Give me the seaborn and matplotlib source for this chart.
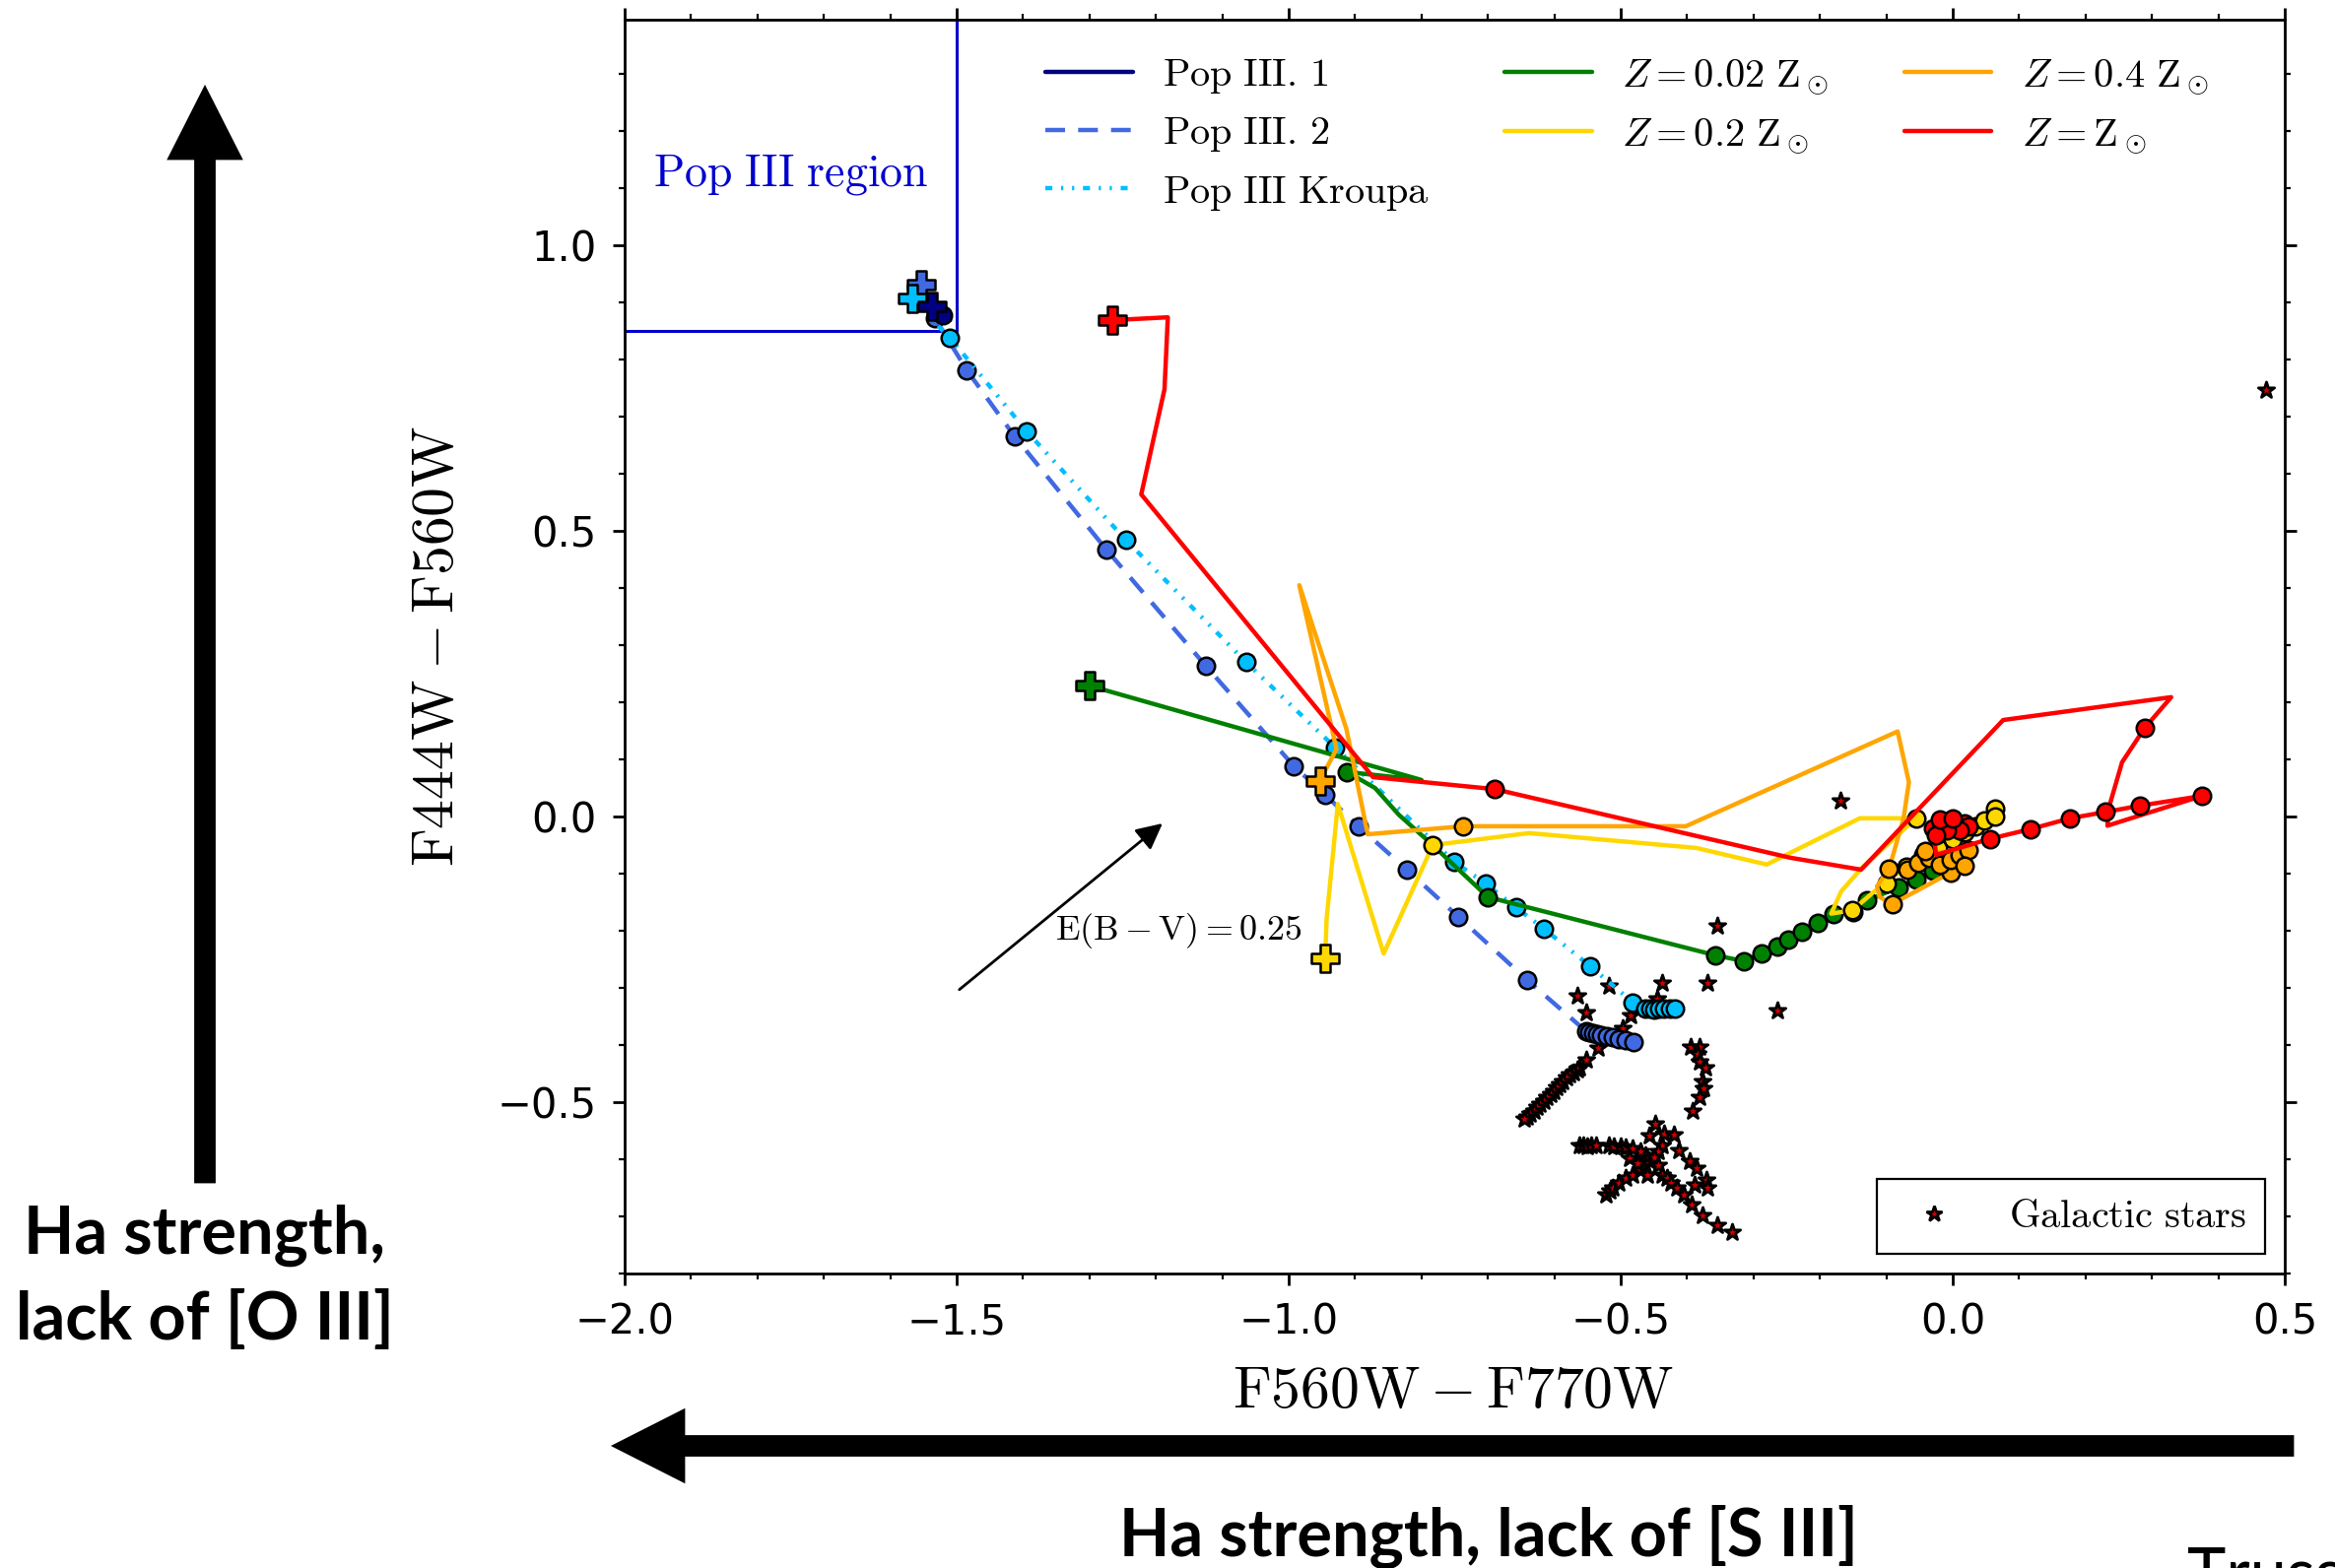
import matplotlib
matplotlib.use("Agg")
import matplotlib.pyplot as plt
import seaborn as sns
from matplotlib.lines import Line2D
from matplotlib.patches import FancyArrow
from matplotlib.ticker import MultipleLocator

# ---------------- model tracks (F560W-F770W, F444W-F560W) ----------------
pop31_x = [-1.537, -1.530, -1.521, -1.510]
pop31_y = [0.893, 0.885, 0.877, 0.869]
pop31_mx = [-1.530, -1.521]
pop31_my = [0.885, 0.877]

pop32_x = [-1.553, -1.533, -1.485, -1.413, -1.275, -1.125, -0.992, -0.945, -0.895,
           -0.822, -0.745, -0.641, -0.552, -0.547, -0.542, -0.536, -0.529, -0.521,
           -0.512, -0.503, -0.493, -0.481]
pop32_y = [0.931, 0.873, 0.782, 0.666, 0.468, 0.264, 0.088, 0.038, -0.017,
           -0.093, -0.175, -0.286, -0.376, -0.378, -0.379, -0.381, -0.383, -0.385,
           -0.387, -0.390, -0.392, -0.395]

kroupa_x = [-1.567, -1.510, -1.395, -1.245, -1.064, -0.930, -0.751, -0.703, -0.658,
            -0.616, -0.546, -0.482, -0.463, -0.456, -0.449, -0.442, -0.434, -0.426,
            -0.418]
kroupa_y = [0.907, 0.838, 0.675, 0.484, 0.270, 0.121, -0.079, -0.118, -0.159,
            -0.196, -0.262, -0.325, -0.336, -0.337, -0.338, -0.337, -0.336, -0.337,
            -0.337]

z002_x = [-1.300, -0.800, -0.912, -0.870, -0.834, -0.785, -0.700, -0.357, -0.315,
          -0.288, -0.264, -0.248, -0.227, -0.203, -0.180, -0.150, -0.129, -0.082,
          -0.055, -0.030]
z002_y = [0.229, 0.064, 0.078, 0.050, 0.003, -0.048, -0.141, -0.243, -0.253,
          -0.239, -0.228, -0.216, -0.202, -0.186, -0.170, -0.167, -0.147, -0.124,
          -0.110, -0.095]
z002_mx = [-0.912, -0.700, -0.357, -0.315, -0.288, -0.264, -0.248, -0.227, -0.203,
           -0.180, -0.150, -0.129, -0.082, -0.055, -0.030]
z002_my = [0.078, -0.141, -0.243, -0.253, -0.239, -0.228, -0.216, -0.202, -0.186,
           -0.170, -0.167, -0.147, -0.124, -0.110, -0.095]

z02_x = [-0.945, -0.943, -0.926, -0.857, -0.783, -0.638, -0.386, -0.280, -0.140,
         -0.076, -0.055, -0.137, -0.168, -0.183, -0.151, -0.120, -0.090, -0.062,
         -0.040, -0.016, 0.010, 0.031, 0.045, 0.064]
z02_y = [-0.248, -0.181, 0.022, -0.240, -0.050, -0.029, -0.055, -0.084, -0.003,
         -0.003, -0.003, -0.090, -0.131, -0.170, -0.164, -0.133, -0.105, -0.080,
         -0.065, -0.050, -0.033, -0.021, -0.009, 0.014]
z02_mx = [-0.783, -0.055, -0.151, -0.100, -0.070, -0.045, -0.022, 0.000, 0.018,
          0.034, 0.048, 0.064, 0.064]
z02_my = [-0.050, -0.003, -0.164, -0.118, -0.088, -0.068, -0.055, -0.040, -0.027,
          -0.017, -0.006, 0.014, 0.000]

z04_x = [-0.953, -0.928, -0.984, -0.913, -0.881, -0.737, -0.402, -0.083, -0.066,
         -0.074, -0.096, -0.114, -0.110, -0.091, -0.003, -0.020, -0.036, -0.052,
         -0.068, -0.042, 0.010, 0.024, 0.018]
z04_y = [0.063, 0.118, 0.405, 0.153, -0.031, -0.017, -0.017, 0.149, 0.060,
         -0.003, -0.092, -0.122, -0.141, -0.153, -0.098, -0.084, -0.072, -0.081,
         -0.093, -0.060, -0.067, -0.059, -0.086]
z04_mx = [-0.737, -0.096, -0.091, -0.003, -0.068, -0.052, -0.036, -0.019, -0.003,
          0.010, 0.024, 0.018, -0.042]
z04_my = [-0.017, -0.092, -0.153, -0.098, -0.093, -0.081, -0.072, -0.084, -0.076,
          -0.067, -0.059, -0.086, -0.060]

zsun_x = [-1.266, -1.182, -1.187, -1.222, -0.873, -0.690, -0.245, -0.138, 0.076,
          0.329, 0.289, 0.255, 0.236, 0.233, 0.375, 0.282, 0.230, 0.177, 0.117,
          0.056, -0.025, -0.030, -0.016, 0.001, 0.018, 0.024, 0.010, -0.009, -0.025]
zsun_y = [0.869, 0.874, 0.748, 0.564, 0.069, 0.048, -0.072, -0.093, 0.169,
          0.209, 0.155, 0.095, 0.019, -0.016, 0.036, 0.019, 0.008, -0.003, -0.022,
          -0.039, -0.067, -0.021, -0.016, -0.012, -0.012, -0.017, -0.024, -0.024, -0.033]
zsun_mx = [-0.690, 0.289, 0.375, 0.282, 0.230, 0.177, 0.117, 0.056, -0.030, -0.016,
           0.001, 0.018, 0.024, 0.010, -0.009, -0.025, -0.020, 0.000]
zsun_my = [0.048, 0.155, 0.036, 0.019, 0.008, -0.003, -0.022, -0.039, -0.021, -0.016,
           -0.012, -0.012, -0.017, -0.024, -0.024, -0.033, -0.005, -0.003]

# ---------------- Galactic stars ----------------
star_x = [0.472, -0.169, -0.355, -0.264, -0.438, -0.370, -0.518, -0.565, -0.552,
          -0.485, -0.445, -0.497, -0.534, -0.552,
          -0.562, -0.566, -0.571, -0.577, -0.582, -0.587, -0.592, -0.596, -0.601,
          -0.606, -0.611, -0.616, -0.622, -0.626, -0.631, -0.636, -0.641, -0.646,
          -0.395, -0.381, -0.385, -0.381, -0.373, -0.377, -0.375, -0.381, -0.392,
          -0.562, -0.556, -0.550, -0.544, -0.537, -0.518, -0.510, -0.500, -0.493,
          -0.522, -0.516, -0.512, -0.503, -0.493, -0.482, -0.470, -0.463, -0.458,
          -0.463, -0.470, -0.482, -0.486, -0.475, -0.460,
          -0.448, -0.457, -0.434, -0.420, -0.438, -0.444, -0.450, -0.444, -0.438,
          -0.431, -0.424, -0.415, -0.405, -0.393, -0.377, -0.355, -0.332,
          -0.412, -0.396, -0.386, -0.371, -0.369, -0.389]
star_y = [0.747, 0.028, -0.191, -0.340, -0.291, -0.291, -0.297, -0.314, -0.343,
          -0.348, -0.319, -0.371, -0.405, -0.426,
          -0.440, -0.443, -0.448, -0.452, -0.457, -0.463, -0.469, -0.474, -0.481,
          -0.487, -0.492, -0.498, -0.503, -0.509, -0.515, -0.520, -0.526, -0.530,
          -0.403, -0.403, -0.415, -0.429, -0.440, -0.464, -0.476, -0.492, -0.516,
          -0.576, -0.575, -0.577, -0.576, -0.576, -0.576, -0.578, -0.577, -0.580,
          -0.662, -0.655, -0.650, -0.641, -0.633, -0.628, -0.619, -0.610, -0.602,
          -0.593, -0.586, -0.581, -0.598, -0.607, -0.628,
          -0.538, -0.559, -0.555, -0.557, -0.576, -0.586, -0.597, -0.610, -0.628,
          -0.633, -0.641, -0.650, -0.662, -0.679, -0.698, -0.716, -0.728,
          -0.584, -0.603, -0.616, -0.636, -0.650, -0.645]

# reddening vector
ebv_start = (-1.496, -0.303)
ebv_end = (-1.190, -0.012)

legend_labels = [r'$\mathrm{Pop\ III.\,1}$', r'$\mathrm{Pop\ III.\,2}$',
                 r'$\mathrm{Pop\ III\ Kroupa}$', r'$Z=0.02\ \mathrm{Z}_\odot$',
                 r'$Z=0.2\ \mathrm{Z}_\odot$', r'$Z=0.4\ \mathrm{Z}_\odot$',
                 r'$Z=\mathrm{Z}_\odot$']

# ---------------- style ----------------
sns.set_style("ticks")
plt.rcParams.update({
    "mathtext.fontset": "cm",
    "font.family": ["DejaVu Sans"],
    "axes.edgecolor": "black",
    "axes.linewidth": 1.0,
    "xtick.color": "black",
    "ytick.color": "black",
    "text.color": "black",
    "axes.labelcolor": "black",
})

LW = 1.6
DASH = (0, (4.5, 3.0))
DASHDOT = (0, (1.6, 2.0, 0.5, 2.0, 0.5, 2.0))

fig = plt.figure(figsize=(11.85, 7.96), dpi=200)
ax = fig.add_axes([0.26751, 0.18781, 0.71097, 0.79962])


def draw_track(tx, ty, mx, my, color, ls, z):
    sns.lineplot(x=tx, y=ty, sort=False, estimator=None, color=color, lw=LW,
                 linestyle=ls, ax=ax, zorder=z, legend=False)
    sns.scatterplot(x=mx, y=my, color=color, marker="o", s=40, edgecolor="black",
                    linewidth=0.9, ax=ax, zorder=z + 0.1, legend=False)
    sns.scatterplot(x=[tx[0]], y=[ty[0]], color=color, marker="P", s=100,
                    edgecolor="black", linewidth=0.9, ax=ax, zorder=z + 0.2,
                    legend=False)


# Galactic stars underneath the tracks
sns.scatterplot(x=star_x, y=star_y, marker="*", s=38, color="#cc0000",
                edgecolor="black", linewidth=1.0, ax=ax, zorder=2, legend=False)

draw_track(pop32_x, pop32_y, pop32_x[1:], pop32_y[1:], "royalblue", DASH, 3)
draw_track(kroupa_x, kroupa_y, kroupa_x[1:], kroupa_y[1:], "deepskyblue", DASHDOT, 3.3)
draw_track(pop31_x, pop31_y, pop31_mx, pop31_my, "navy", "-", 3.6)
draw_track(z002_x, z002_y, z002_mx, z002_my, "green", "-", 4)
draw_track(z02_x, z02_y, z02_mx, z02_my, "gold", "-", 4.3)
draw_track(z04_x, z04_y, z04_mx, z04_my, "orange", "-", 4.6)
draw_track(zsun_x, zsun_y, zsun_mx, zsun_my, "red", "-", 4.9)

# Pop III selection box
ax.plot([-2.0, -1.5], [0.85, 0.85], color="mediumblue", lw=1.1, zorder=2.5)
ax.plot([-1.5, -1.5], [0.85, 1.45], color="mediumblue", lw=1.1, zorder=2.5)
ax.text(-1.957, 1.104, r'$\mathrm{Pop\ III\ region}$', color="mediumblue",
        fontsize=16.5, ha="left", va="baseline")

# reddening vector
ax.annotate("", xy=ebv_end, xytext=ebv_start,
            arrowprops=dict(arrowstyle="-|>", color="black", lw=1.0,
                            mutation_scale=20, shrinkA=0, shrinkB=0))
ax.text(-1.165, -0.216, r'$\mathrm{E(B-V)=0.25}$', fontsize=13,
        ha="center", va="baseline")

# axes
ax.set_xlim(-2.0, 0.5)
ax.set_ylim(-0.8, 1.395)
ax.xaxis.set_major_locator(MultipleLocator(0.5))
ax.xaxis.set_minor_locator(MultipleLocator(0.1))
ax.yaxis.set_major_locator(MultipleLocator(0.5))
ax.yaxis.set_minor_locator(MultipleLocator(0.1))
ax.tick_params(which="both", direction="out", top=True, right=True)
ax.tick_params(which="major", length=4.3, width=1.0, labelsize=15, pad=6)
ax.tick_params(which="minor", length=2.2, width=0.8)
for s in ax.spines.values():
    s.set_visible(True)
    s.set_linewidth(1.0)

ax.set_xlabel(r'$\mathrm{F560W-F770W}$', fontsize=21.5)
ax.set_ylabel(r'$\mathrm{F444W-F560W}$', fontsize=21.5)
ax.xaxis.set_label_coords(0.499, -0.0707)
ax.yaxis.set_label_coords(-0.0955, 0.5)

# legends
colors = ["navy", "royalblue", "deepskyblue", "green", "gold", "orange", "red"]
styles = ["-", DASH, DASHDOT, "-", "-", "-", "-"]
handles = [Line2D([], [], color=c, lw=LW, linestyle=st) for c, st in zip(colors, styles)]
leg1 = ax.legend(handles, legend_labels, ncol=3, loc="upper left",
                 bbox_to_anchor=(0.232, 1.0), frameon=False, fontsize=14.5,
                 handlelength=2.2, handletextpad=0.75, columnspacing=1.9,
                 labelspacing=0.45)
ax.add_artist(leg1)

star_handle = Line2D([], [], linestyle="none", marker="*", markersize=5.8,
                     markerfacecolor="#cc0000", markeredgecolor="black",
                     markeredgewidth=1.0)
leg2 = ax.legend([star_handle], [r'$\mathrm{Galactic\ stars}$'], loc="lower right",
                 fontsize=14.5, frameon=True, fancybox=False, framealpha=1,
                 edgecolor="black", handlelength=2.0, handletextpad=0.9,
                 borderpad=0.45, numpoints=1)
leg2.get_frame().set_linewidth(0.8)

# annotation arrows and captions outside the axes (positions in inches)
tr = fig.dpi_scale_trans
fig.add_artist(FancyArrow(1.04, 1.96, 0.0, 5.555, width=0.095, head_width=0.365,
                          head_length=0.36, length_includes_head=True,
                          color="black", transform=tr))
fig.add_artist(FancyArrow(11.635, 0.62, -8.52, 0.0, width=0.095, head_width=0.36,
                          head_length=0.355, length_includes_head=True,
                          color="black", transform=tr))

cap_font = dict(family=["Lato", "DejaVu Sans"], fontweight="bold", fontsize=24)
fig.text(1.04, 1.595, "Ha strength,", ha="center", va="baseline", transform=tr, **cap_font)
fig.text(1.04, 1.16, "lack of [O III]", ha="center", va="baseline", transform=tr, **cap_font)
fig.text(7.555, 0.06, "Ha strength, lack of [S III]", ha="center", va="baseline",
         transform=tr, **cap_font)
fig.text(11.10, -0.14, "Trussler et al. (2023)", ha="left", va="baseline",
         transform=tr, family=["Lato", "DejaVu Sans"], fontsize=24)

fig.savefig("out.png", dpi=200)
